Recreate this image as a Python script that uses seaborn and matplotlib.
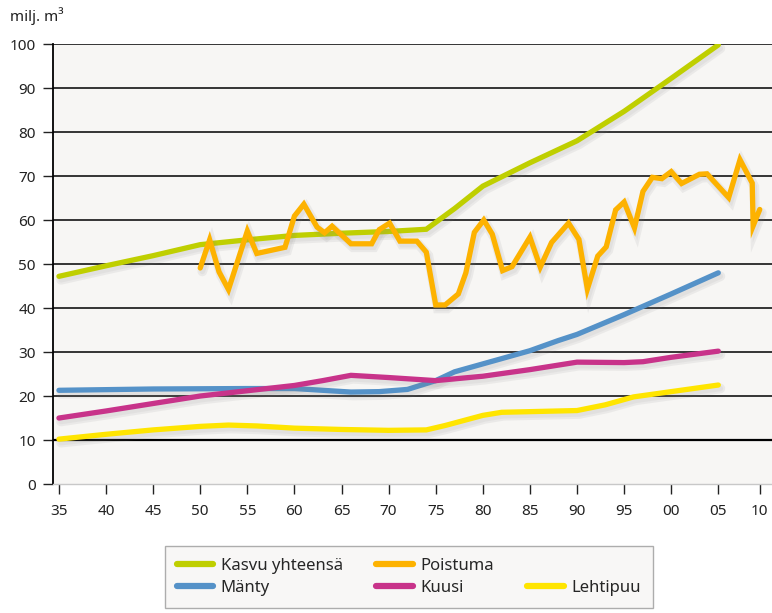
import matplotlib
matplotlib.use("Agg")
import matplotlib.pyplot as plt
import matplotlib.patheffects as pe
from matplotlib.lines import Line2D
import seaborn as sns
import pandas as pd

# ---- data ----
kasvu_years = [1935, 1940, 1945, 1950, 1955, 1960, 1965, 1970, 1974, 1977, 1980, 1985, 1990, 1995, 2000, 2005]
kasvu_vals = [47.2, 49.6, 51.9, 54.4, 55.5, 56.5, 57.0, 57.4, 57.9, 62.6, 67.7, 73.0, 78.0, 84.7, 92.2, 99.8]

poistuma_years = [1950, 1951, 1952, 1953, 1955, 1956, 1959, 1960, 1961, 1962.4, 1963.2, 1964, 1966,
                  1968.2, 1969, 1970.1, 1971.2, 1973, 1974, 1975, 1976, 1977.4, 1978.2, 1979.1, 1980.1,
                  1981, 1982.1, 1983.1, 1985, 1986.1, 1987.3, 1989.1, 1990.2, 1991.1, 1992.2, 1993.1,
                  1994.1, 1995, 1996.1, 1997, 1998, 1999, 2000, 2001.1, 2003, 2003.8, 2006.1, 2007.3,
                  2008.6, 2008.7, 2009.4]
poistuma_vals = [49.1, 55.5, 48.2, 44.2, 57.5, 52.4, 53.8, 60.9, 63.6, 58.4, 57.1, 58.6, 54.6,
                 54.6, 57.8, 59.3, 55.2, 55.2, 52.7, 40.7, 40.7, 43.2, 48.0, 57.2, 60.0,
                 56.8, 48.5, 49.4, 56.1, 49.3, 54.9, 59.3, 55.6, 44.3, 51.8, 53.9,
                 62.3, 64.1, 58.2, 66.5, 69.7, 69.4, 71.0, 68.3, 70.4, 70.5, 65.1, 73.7,
                 68.4, 58.7, 62.4]

manty_years = [1935, 1945, 1955, 1960, 1963, 1966, 1969, 1972, 1975, 1977, 1980, 1985, 1988, 1990, 1995, 2000, 2005]
manty_vals = [21.3, 21.6, 21.7, 21.7, 21.3, 20.9, 21.0, 21.5, 23.5, 25.5, 27.3, 30.3, 32.6, 34.0, 38.5, 43.2, 48.0]

kuusi_years = [1935, 1940, 1945, 1950, 1955, 1960, 1963, 1966, 1970, 1975, 1980, 1985, 1990, 1995, 1997, 2000, 2005]
kuusi_vals = [15.0, 16.6, 18.3, 20.0, 21.2, 22.4, 23.5, 24.7, 24.2, 23.5, 24.5, 26.0, 27.7, 27.6, 27.8, 28.8, 30.2]

lehti_years = [1935, 1940, 1945, 1950, 1953, 1956, 1960, 1965, 1970, 1974, 1976, 1980, 1982, 1990, 1993, 1996, 2000, 2005]
lehti_vals = [10.2, 11.3, 12.3, 13.1, 13.4, 13.2, 12.7, 12.4, 12.2, 12.3, 13.3, 15.6, 16.3, 16.7, 18.0, 19.8, 21.0, 22.5]

series_names = ["Kasvu yhteensä", "Poistuma", "Mänty", "Kuusi", "Lehtipuu"]
series_colors = ["#bfcf00", "#fdb200", "#5592c8", "#c8338a", "#ffe500"]

tick_years = [1935, 1940, 1945, 1950, 1955, 1960, 1965, 1970, 1975, 1980, 1985, 1990, 1995, 2000, 2005, 2009.4]
tick_labels = ["35", "40", "45", "50", "55", "60", "65", "70", "75", "80", "85", "90", "95", "00", "05", "10"]
y_ticks = [0, 10, 20, 30, 40, 50, 60, 70, 80, 90, 100]

# ---- figure ----
sns.set_theme(style="white")
plt.rcParams["font.family"] = ["Noto Sans", "DejaVu Sans"]

fig = plt.figure(figsize=(7.72, 6.13), dpi=100)
ax = fig.add_axes([0.069, 0.2104, 0.931, 0.7178])
ax.set_facecolor("#f7f6f4")

for y in y_ticks[1:]:
    ax.axhline(y, color="black", lw=1.1 if y != 10 else 1.6, zorder=1)

frames = [
    (kasvu_years, kasvu_vals),
    (poistuma_years, poistuma_vals),
    (manty_years, manty_vals),
    (kuusi_years, kuusi_vals),
    (lehti_years, lehti_vals),
]
shadow = [pe.SimpleLineShadow(offset=(1.5, -2.5), shadow_color="#808080", alpha=0.10, linewidth=7),
          pe.SimpleLineShadow(offset=(1.5, -2.5), shadow_color="#808080", alpha=0.08, linewidth=4),
          pe.Normal()]
draw_order = [4, 3, 2, 0, 1]
for i in draw_order:
    xs, ys = frames[i]
    df = pd.DataFrame({"year": xs, "value": ys})
    sns.lineplot(data=df, x="year", y="value", ax=ax, color=series_colors[i], lw=3.8,
                 sort=False, estimator=None, zorder=3 + i, legend=False,
                 path_effects=shadow, solid_joinstyle="miter")

ax.set_xlim(1934.4, 2010.7)
ax.set_ylim(0, 100)
ax.set_xticks(tick_years)
ax.set_xticklabels(tick_labels)
ax.set_yticks(y_ticks)
ax.set_xlabel("")
ax.set_ylabel("")
ax.tick_params(axis="both", labelsize=11, colors="#222222", direction="out", length=7.5, width=1.0,
               pad=4)
ax.tick_params(axis="x", pad=7)
ax.tick_params(axis="y", pad=5)
ax.yaxis.set_ticks_position("left")
ax.xaxis.set_ticks_position("bottom")

for side in ["top", "right"]:
    ax.spines[side].set_visible(False)
ax.spines["left"].set_color("black")
ax.spines["left"].set_linewidth(1.3)
ax.spines["bottom"].set_color("#c8c8c8")
ax.spines["bottom"].set_linewidth(1.0)

fig.text(0.013, 0.974, "milj. m³", fontsize=11, color="#222222", ha="left", va="center")

# legend
handles = []
for i in range(5):
    handles.append(Line2D([], [], color=series_colors[i], lw=4.5))
blank = Line2D([], [], color="none", lw=0)
h_order = [handles[0], handles[2], handles[1], handles[3], blank, handles[4]]
l_order = [series_names[0], series_names[2], series_names[1], series_names[3], "", series_names[4]]
leg = fig.legend(h_order, l_order, ncol=3, loc="upper left", bbox_to_anchor=(0.2137, 0.1093),
                 frameon=True, fancybox=False, fontsize=12, handlelength=2.2, handletextpad=0.45,
                 columnspacing=2.0, labelspacing=0.4, borderpad=0.7, borderaxespad=0)
leg.get_frame().set_facecolor("#f7f6f4")
leg.get_frame().set_edgecolor("#9a9a9a")
leg.get_frame().set_linewidth(1.0)

fig.savefig("out.png", dpi=100, facecolor="white")
